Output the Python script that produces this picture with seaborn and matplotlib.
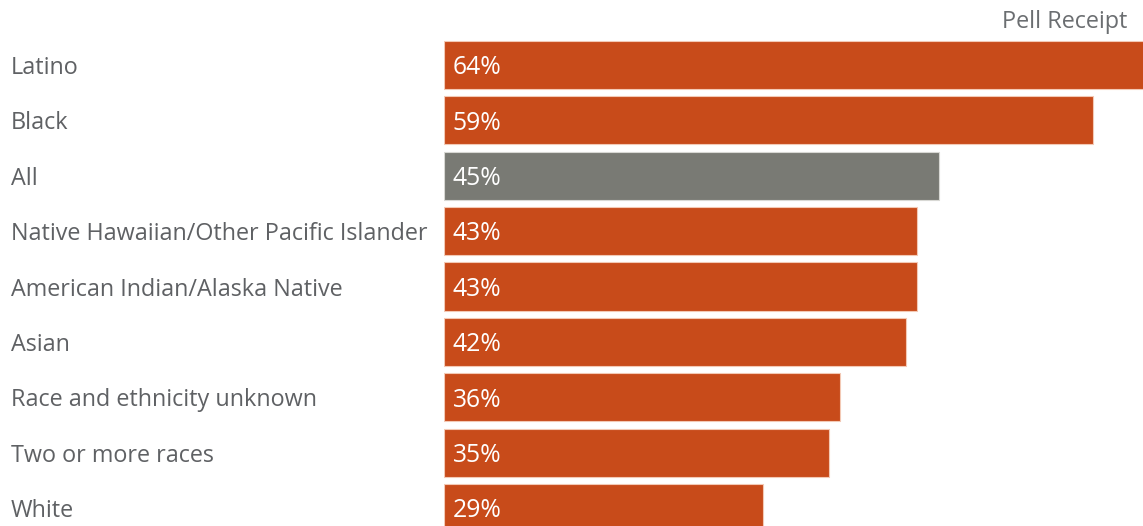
import matplotlib
matplotlib.use("Agg")
import matplotlib.pyplot as plt
import seaborn as sns
import pandas as pd

categories = ["Latino", "Black", "All", "Native Hawaiian/Other Pacific Islander",
              "American Indian/Alaska Native", "Asian", "Race and ethnicity unknown",
              "Two or more races", "White"]
values = [64, 59, 45, 43, 43, 42, 36, 35, 29]
title = "Pell Receipt"

sns.set_theme(style="white")
plt.rcParams['font.family'] = ['Open Sans', 'DejaVu Sans']

ORANGE = "#C84B1A"
GRAY = "#797A74"
palette = {c: (GRAY if c == "All" else ORANGE) for c in categories}

df = pd.DataFrame({"group": categories, "value": values})

W, H = 1143, 526
fig = plt.figure(figsize=(W / 100, H / 100), dpi=100)
px_per_unit = 55.375
y_top = -0.5
y_bot = 8 + (526 - 508) / px_per_unit
ax_h = (y_bot - y_top) * px_per_unit
ax = fig.add_axes([444 / W, 0, (W - 444) / W, ax_h / H])

sns.barplot(data=df, x="value", y="group", hue="group", palette=palette,
            order=categories, orient="h", width=0.87, legend=False, ax=ax,
            edgecolor="#F3C9B5", linewidth=0.8, saturation=1)
for p, c in zip(ax.patches, categories):
    if c == "All":
        p.set_edgecolor("#D8D8D4")

ax.set_xlim(0, (W - 444) / 11)
ax.set_ylim(y_bot, y_top)
ax.set_xlabel("")
ax.set_ylabel("")
ax.set_xticks([])
sns.despine(ax=ax, left=True, bottom=True)

FS = 16.8
for i, v in enumerate(values):
    ax.text(0.8, i + 0.05, f"{v}%", color="white", fontsize=17.8, va="center", ha="left")

ax.tick_params(axis="y", length=0, pad=433 * 72 / 100, labelsize=FS, labelcolor="#5F6164")
for lbl in ax.get_yticklabels():
    lbl.set_horizontalalignment("left")

fig.text(1127 / W, 1 - 22 / H, title, ha="right", va="center", fontsize=FS, color="#6B6E71")

fig.savefig("out.png", dpi=100)
